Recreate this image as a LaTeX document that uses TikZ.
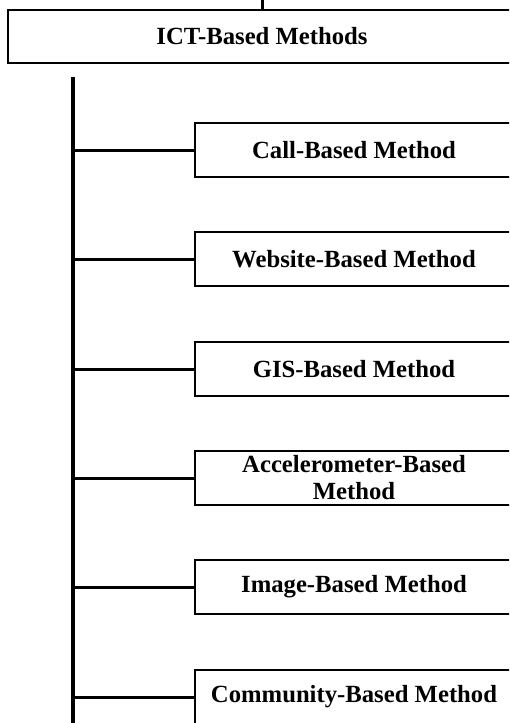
\documentclass[tikz,border=0pt]{standalone}
\usepackage{fontspec}
\setmainfont{Liberation Serif}
\begin{document}
\begin{tikzpicture}[x=1pt,y=-1pt,
  box/.style={draw=black, line width=2pt, fill=white, align=center,
    font=\bfseries\fontsize{24.7}{27}\selectfont, inner sep=0pt},
  child/.style={box, minimum width=318pt, minimum height=54pt},
  trunkline/.style={line width=3.5pt},
  branch/.style={line width=3pt}]
\useasboundingbox (0,0) rectangle (509,723);
\clip (0,0) rectangle (509,723);
\node[box, minimum width=508pt, minimum height=53pt] (ict) at (262,36.5) {ICT-Based Methods};
\coordinate (stub) at (262,-3);
\draw[branch] (stub) -- (ict.north);
\node[child] (c1) at (354,150) {Call-Based Method};
\node[child] (c2) at (354,259) {Website-Based Method};
\node[child] (c3) at (354,369) {GIS-Based Method};
\node[child] (c4) at (354,478) {Accelerometer-Based\\Method};
\node[child] (c5) at (354,587) {Image-Based Method};
\node[child] (c6) at (354,697) {Community-Based Method};
\coordinate (ttop) at (73,77);
\coordinate (tbot) at (73,726);
\draw[trunkline] (ttop) -- (tbot);
\foreach \n in {c1,c2,c3,c4,c5,c6}{
  \draw[branch] (\n.west -| ttop) -- (\n.west);
}
\end{tikzpicture}
\end{document}
